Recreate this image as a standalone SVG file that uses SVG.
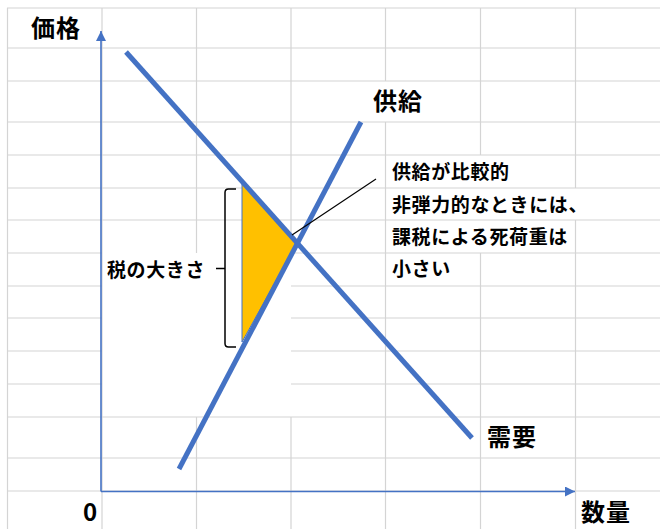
<svg xmlns="http://www.w3.org/2000/svg" width="660" height="529" viewBox="0 0 660 529">
<style>
.grid{stroke:#d4d4d4;stroke-width:1.2;fill:none}
.axis{stroke:#4472C4;stroke-width:1.6;fill:none}
.curve{stroke:#4472C4;stroke-width:5;fill:none}
.ink{stroke:#000;fill:none}
text{font-family:"Noto Sans CJK JP","Noto Sans",sans-serif;fill:#000}
.big{font-size:24px;font-weight:bold;letter-spacing:1px}
.note{font-size:19px;font-weight:bold;letter-spacing:0.6px}
</style>
<defs>
<marker id="arrow" markerUnits="userSpaceOnUse" markerWidth="10" markerHeight="10" refX="10" refY="5" orient="auto">
<path d="M0,0 L10,5 L0,10 z" fill="#4472C4"/>
</marker>
</defs>
<rect width="660" height="529" fill="#fff"/>
<g id="grid">
<path class="grid" d="M7,8H660 M7,48H660 M7,81H660 M7,122H660 M7,155H660 M7,188H660 M7,220H660
M7,253H102 M291,253H660 M7,286H102 M291,286H660 M7,318H102 M291,318H660 M7,351H102 M291,351H660 M7,384H102 M291,384H660
M7,417H660 M7,458H660 M7,491H660
M7.5,8V529 M102,8V529 M196.5,8V253 M196.5,417V529 M291,8V253 M291,417V529
M385.5,8V81 M385.5,122V529 M480.5,8V155 M480.5,253V529 M575.5,8V188 M575.5,220V529"/>
</g>
<g id="tax-area">
<polygon points="242,183 297,243 242,342" fill="#FFC000" stroke="#4472C4" stroke-width="1"/>
</g>
<g id="axes">
<line class="axis" x1="101" y1="491.5" x2="101" y2="31" marker-end="url(#arrow)"/>
<line class="axis" x1="101" y1="491.5" x2="575" y2="491.5" marker-end="url(#arrow)"/>
</g>
<g id="connectors">
<line id="demand" class="curve" x1="126" y1="52" x2="472" y2="438"/>
<line id="supply" class="curve" x1="179" y1="469" x2="361" y2="122"/>
<path id="brace" class="ink" stroke-width="1.5" d="M236,189 H228.5 Q225,189 225,192.5 V343.5 Q225,347 228.5,347 H236 M216,268.5 H225"/>
<line id="leader" class="ink" stroke-width="1.2" x1="292" y1="235" x2="376" y2="179"/>
</g>
<g id="label-price"><text class="big" x="31" y="37">価格</text></g>
<g id="label-supply"><text class="big" x="373" y="110">供給</text></g>
<g id="label-demand"><text class="big" x="487" y="446">需要</text></g>
<g id="label-quantity"><text class="big" x="581" y="521">数量</text></g>
<g id="label-origin"><text class="big" x="83" y="521">0</text></g>
<g id="label-tax"><text class="note" x="107" y="277">税の大きさ</text></g>
<g id="label-note">
<text class="note" x="392" y="179">供給が比較的</text>
<text class="note" x="392" y="211.5">非弾力的なときには、</text>
<text class="note" x="392" y="243.5">課税による死荷重は</text>
<text class="note" x="392" y="276">小さい</text>
</g>
</svg>
